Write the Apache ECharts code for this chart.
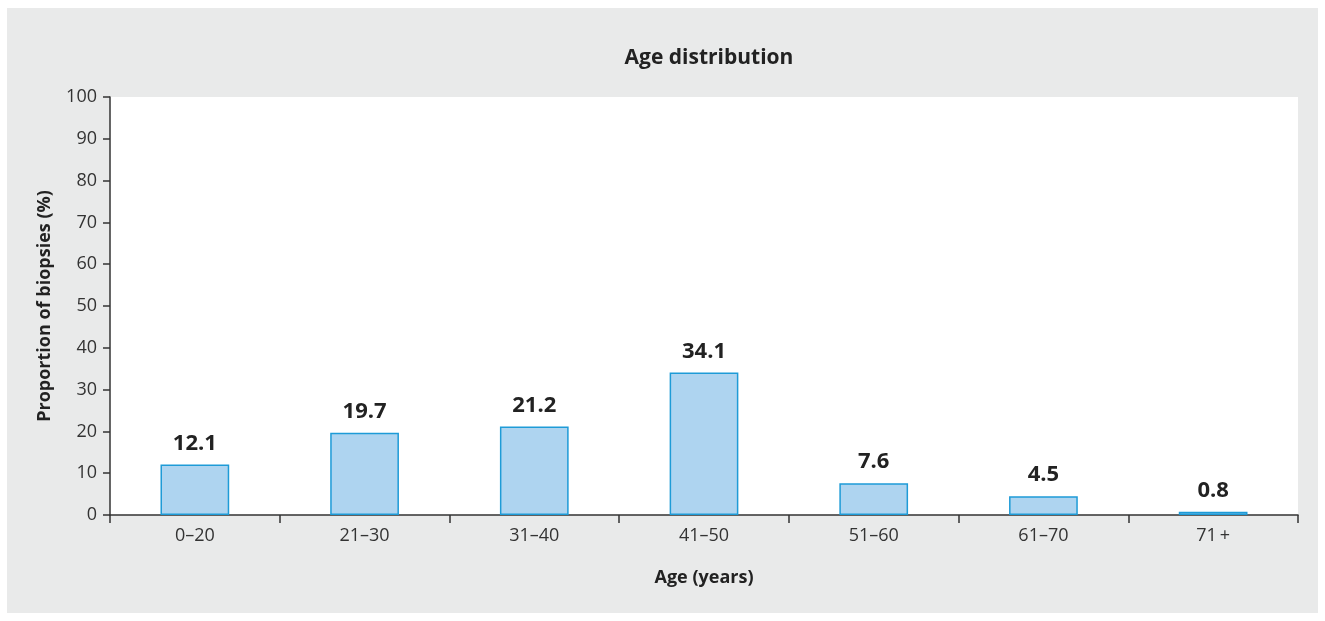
<!DOCTYPE html>
<html>
<head>
<meta charset="utf-8">
<script src="https://cdn.jsdelivr.net/npm/echarts@6/dist/echarts.min.js"></script>
<style>
html,body{margin:0;padding:0;background:#ffffff;}
#chart{width:1325px;height:621px;}
</style>
</head>
<body>
<div id="chart"></div>
<script>
const categories = ['0\u201320','21\u201330','31\u201340','41\u201350','51\u201360','61\u201370','71\u2009+'];
const proportions = [12.1, 19.7, 21.2, 34.1, 7.6, 4.5, 0.8];
const yTicks = [0,10,20,30,40,50,60,70,80,90,100];

const chart = echarts.init(document.getElementById('chart'));
const FONT = '"Open Sans", "Noto Sans", sans-serif';
chart.setOption({
  backgroundColor: 'transparent',
  animation: false,
  graphic: [{
    type: 'rect', z: -10, silent: true,
    shape: {x: 7, y: 8, width: 1311, height: 605},
    style: {fill: '#e9eaea'}
  }],
  title: {
    text: 'Age distribution',
    left: 704, top: 43, textAlign: 'center',
    textStyle: {fontFamily: FONT, fontSize: 21, fontWeight: 'bold', color: '#222'}
  },
  grid: {
    left: 110, right: 27, top: 97, bottom: 106,
    show: true, backgroundColor: '#ffffff', borderWidth: 0
  },
  xAxis: {
    type: 'category',
    data: categories,
    name: 'Age (years)',
    nameLocation: 'middle',
    nameGap: 54,
    nameTextStyle: {fontFamily: FONT, fontSize: 18, fontWeight: 'bold', color: '#222'},
    axisLine: {lineStyle: {color: '#333', width: 1.5}},
    axisTick: {show: true, length: 8, inside: false, lineStyle: {color: '#333', width: 1.5}},
    axisLabel: {fontFamily: FONT, fontSize: 18, color: '#333', margin: 12}
  },
  yAxis: {
    type: 'value',
    min: 0, max: 100, interval: 10,
    name: 'Proportion of biopsies (%)',
    nameLocation: 'middle',
    nameGap: 56,
    nameRotate: 90,
    nameTextStyle: {fontFamily: FONT, fontSize: 18, fontWeight: 'bold', color: '#222'},
    axisLine: {show: true, lineStyle: {color: '#333', width: 1.5}},
    axisTick: {show: true, length: 7, lineStyle: {color: '#333', width: 1.5}},
    splitLine: {show: false},
    axisLabel: {fontFamily: FONT, fontSize: 18, color: '#333', margin: 13,
      formatter: v => yTicks.includes(v) ? String(v) : ''}
  },
  series: [{
    type: 'bar',
    data: proportions,
    barWidth: '40.5%',
    itemStyle: {color: '#aed4f0', borderColor: '#1e9bd7', borderWidth: 1.5},
    label: {
      show: true, position: 'top', distance: 10,
      fontFamily: FONT, fontSize: 22, fontWeight: 'bold', color: '#222',
      formatter: p => p.value.toFixed(1)
    }
  }]
});
</script>
</body>
</html>
